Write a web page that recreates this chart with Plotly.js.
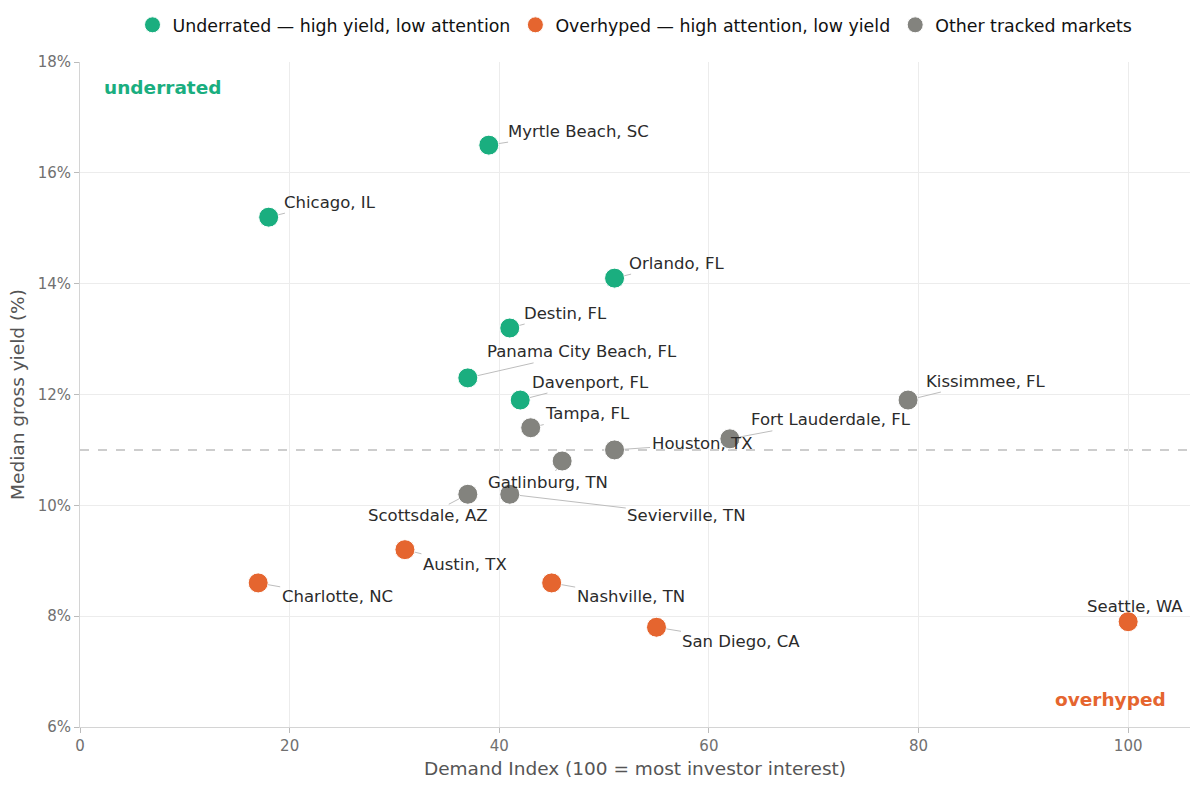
<!DOCTYPE html>
<html>
<head>
<meta charset="utf-8">
<script src="https://cdn.plot.ly/plotly-3.0.1.min.js"></script>
<style>html,body{margin:0;padding:0;background:#fff}#chart{width:1200px;height:787px}</style>
</head>
<body>
<div id="chart"></div>
<script>
// ---- data ----
const markets = ["Myrtle Beach, SC","Chicago, IL","Orlando, FL","Destin, FL","Panama City Beach, FL","Davenport, FL",
  "Tampa, FL","Kissimmee, FL","Fort Lauderdale, FL","Houston, TX","Gatlinburg, TN","Scottsdale, AZ","Sevierville, TN",
  "Austin, TX","Charlotte, NC","Nashville, TN","San Diego, CA","Seattle, WA"];
const demandIndex = [39,18,51,41,37,42, 43,79,62,51,46,37,41, 31,17,45,55,100];
const grossYield = [16.5,15.2,14.1,13.2,12.3,11.9, 11.4,11.9,11.2,11.0,10.8,10.2,10.2, 9.2,8.6,8.6,7.8,7.9];
const groups = ["u","u","u","u","u","u", "o","o","o","o","o","o","o", "h","h","h","h","h"];
const groupNames = {u:"Underrated — high yield, low attention", h:"Overhyped — high attention, low yield", o:"Other tracked markets"};
const yieldThreshold = 11.0;
const xTicks = [0,20,40,60,80,100];
const yTicks = [6,8,10,12,14,16,18];
const yTickText = ["6%","8%","10%","12%","14%","16%","18%"];

// ---- style ----
const colors = {u:"#1aae7f", h:"#e5652f", o:"#83837e"};
const labelOffsets = {
  "Myrtle Beach, SC":[90,-14],"Chicago, IL":[61,-15],"Orlando, FL":[62,-15],"Destin, FL":[56,-15],
  "Panama City Beach, FL":[114,-26],"Davenport, FL":[70,-18],"Tampa, FL":[57,-14],"Kissimmee, FL":[78,-19],
  "Fort Lauderdale, FL":[101,-19],"Houston, TX":[87,-6],"Gatlinburg, TN":[-14,21],"Scottsdale, AZ":[-40,21],
  "Sevierville, TN":[177,21],"Austin, TX":[60,15],"Charlotte, NC":[79,14],"Nashville, TN":[79,14],
  "San Diego, CA":[85,14],"Seattle, WA":[7,-15]
};
const FONT = "DejaVu Sans, sans-serif";

const traces = ["u","h","o"].map(g => {
  const idx = groups.map((v,i)=>v===g?i:-1).filter(i=>i>=0);
  return {
    type:"scatter", mode:"markers", name:groupNames[g],
    x: idx.map(i=>demandIndex[i]), y: idx.map(i=>grossYield[i]), text: idx.map(i=>markets[i]),
    marker:{color:colors[g], size:20, line:{color:"#ffffff", width:1}},
    hovertemplate:"%{text}<br>Demand %{x}<br>Yield %{y}%<extra></extra>"
  };
});

const annotations = markets.map((m,i)=>({
  x: demandIndex[i], y: grossYield[i], xref:"x", yref:"y", text:m,
  showarrow:true, arrowhead:0, arrowwidth:1, arrowcolor:"#bdbdbd", standoff:10,
  ax: labelOffsets[m][0], ay: labelOffsets[m][1],
  font:{family:FONT, size:16.5, color:"#2b2b2b"}
}));
annotations.push({xref:"paper", yref:"paper", x:0.02, y:0.961, xanchor:"left", yanchor:"middle", showarrow:false,
  text:"<b>underrated</b>", font:{family:FONT, size:18.5, color:colors.u}});
annotations.push({xref:"paper", yref:"paper", x:0.98, y:0.041, xanchor:"right", yanchor:"middle", showarrow:false,
  text:"<b>overhyped</b>", font:{family:FONT, size:18.5, color:colors.h}});

const layout = {
  width:1200, height:787,
  margin:{l:80, r:10, t:62, b:60},
  paper_bgcolor:"#ffffff", plot_bgcolor:"#ffffff",
  font:{family:FONT, size:15, color:"#707070"},
  showlegend:true,
  legend:{orientation:"h", x:0.5, xref:"paper", xanchor:"center", y:1-25/787, yref:"container", yanchor:"middle",
    font:{family:FONT, size:17.4, color:"#111111"}, itemsizing:"trace", traceorder:"normal"},
  xaxis:{range:[0,105.9], tickvals:xTicks, ticks:"outside", ticklen:5, tickcolor:"#bbbbbb",
    showline:true, linecolor:"#d4d4d4", gridcolor:"#ececec", zeroline:false,
    tickfont:{family:FONT, size:15, color:"#707070"},
    title:{text:"Demand Index (100 = most investor interest)", font:{family:FONT, size:18.5, color:"#555555"}, standoff:8}},
  yaxis:{range:[6,18], tickmode:"array", tickvals:yTicks, ticktext:yTickText, ticks:"outside", ticklen:5, tickcolor:"#bbbbbb",
    showline:true, linecolor:"#d4d4d4", gridcolor:"#ececec", zeroline:false,
    tickfont:{family:FONT, size:15, color:"#707070"},
    title:{text:"Median gross yield (%)", font:{family:FONT, size:18.5, color:"#555555"}, standoff:8}},
  shapes:[{type:"line", xref:"paper", x0:0, x1:1, yref:"y", y0:yieldThreshold, y1:yieldThreshold,
    line:{color:"#bdbdbd", width:1.5, dash:"dash"}, layer:"below"}],
  annotations: annotations
};

Plotly.newPlot("chart", traces, layout, {displayModeBar:false, responsive:false});
</script>
</body>
</html>
